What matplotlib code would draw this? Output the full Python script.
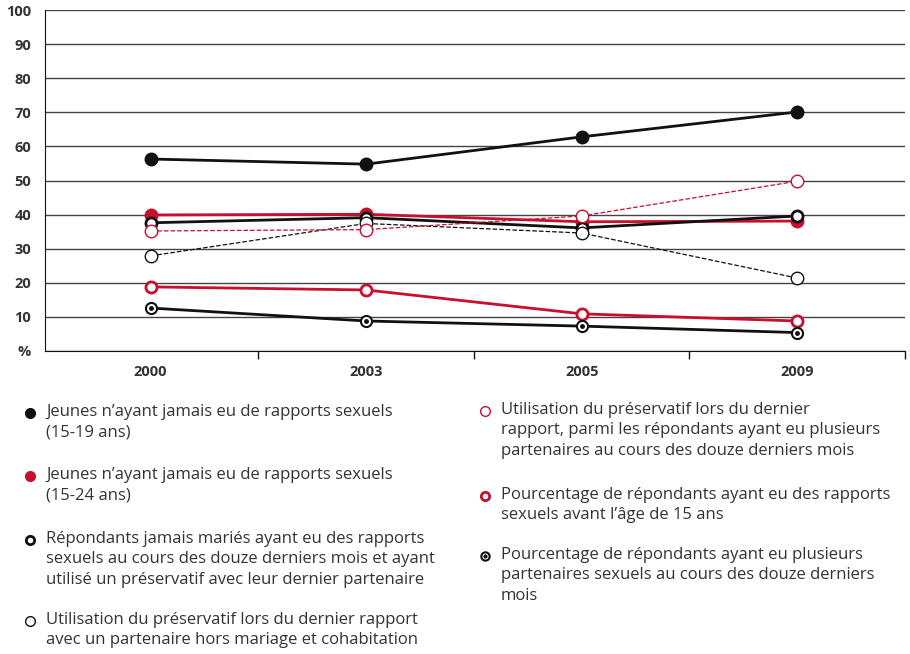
import matplotlib.pyplot as plt
import numpy as np

plt.rcParams['font.family'] = ['Open Sans', 'DejaVu Sans']

years = ['2000', '2003', '2005', '2009']
jeunes_15_19 = [56.3, 54.8, 62.8, 70.1]
jeunes_15_24 = [39.9, 40.1, 37.9, 38.1]
jamais_maries = [37.6, 39.1, 36.1, 39.6]
hors_mariage = [27.9, 37.4, 34.6, 21.4]
plusieurs_part_preservatif = [35.2, 35.6, 39.6, 49.8]
avant_15 = [18.8, 17.9, 10.9, 8.8]
plusieurs_part = [12.6, 8.8, 7.3, 5.4]

legend_labels = [
    "Jeunes n’ayant jamais eu de rapports sexuels\n(15-19 ans)",
    "Jeunes n’ayant jamais eu de rapports sexuels\n(15-24 ans)",
    "Répondants jamais mariés ayant eu des rapports\nsexuels au cours des douze derniers mois et ayant\nutilisé un préservatif avec leur dernier partenaire",
    "Utilisation du préservatif lors du dernier rapport\navec un partenaire hors mariage et cohabitation",
    "Utilisation du préservatif lors du dernier\nrapport, parmi les répondants ayant eu plusieurs\npartenaires au cours des douze derniers mois",
    "Pourcentage de répondants ayant eu des rapports\nsexuels avant l’âge de 15 ans",
    "Pourcentage de répondants ayant eu plusieurs\npartenaires sexuels au cours des douze derniers\nmois",
]

RED = '#c8102e'
BLACK = '#111111'
TXT = '#333333'

fig = plt.figure(figsize=(9.1, 6.54), dpi=100)
ax = fig.add_axes([45/910, 1-351/654, 860/910, 341/654])
x = np.arange(len(years))

# styles: (color, linestyle, lw, marker face, marker edge width, marker size, center dot)
styles = [
    (BLACK, '-', 2.0, BLACK, 1.0, 9, False),
    (RED, '-', 2.0, RED, 1.0, 9, False),
    (BLACK, '-', 2.0, 'white', 2.0, 8, False),
    (BLACK, '--', 0.9, 'white', 1.0, 9, False),
    (RED, '--', 0.9, 'white', 1.0, 9, False),
    (RED, '-', 2.0, 'white', 2.0, 8, False),
    (BLACK, '-', 2.0, 'white', 1.5, 8, True),
]
series = [jeunes_15_19, jeunes_15_24, jamais_maries, hors_mariage,
          plusieurs_part_preservatif, avant_15, plusieurs_part]

for vals, (c, ls, lw, mfc, mew, ms, dot) in zip(series, styles):
    ax.plot(x, vals, color=c, ls=ls, lw=lw, marker='o', mfc=mfc, mec=c,
            mew=mew, ms=ms, zorder=3)
    if dot:
        ax.plot(x, vals, ls='none', marker='o', color=c, ms=2.5, zorder=4)

ax.set_xlim(-0.49, 3.5)
ax.set_ylim(0, 100)
ax.set_yticks(np.arange(0, 101, 10))
ax.set_yticklabels(['%'] + [str(v) for v in range(10, 101, 10)])
ax.set_xticks(x)
ax.set_xticklabels(years)
ax.set_xticks(np.arange(0.5, 3.6, 1), minor=True)
ax.tick_params(axis='x', which='major', length=0, pad=10)
ax.tick_params(axis='x', which='minor', length=6, width=1, color=BLACK)
ax.tick_params(axis='y', length=0, pad=10)
for lab in ax.get_xticklabels() + ax.get_yticklabels():
    lab.set_fontweight('bold')
    lab.set_fontsize(10.5)
    lab.set_color(TXT)
ax.grid(axis='y', color='#444444', lw=1)
ax.set_axisbelow(True)
for s in ['top', 'right']:
    ax.spines[s].set_visible(False)
ax.spines['left'].set_color(BLACK)
ax.spines['bottom'].set_color(BLACK)

# legend drawn in pixel coordinates
lax = fig.add_axes([0, 0, 1, 1])
lax.set_xlim(0, 910)
lax.set_ylim(654, 0)
lax.axis('off')
positions = [(30, 413), (30, 476), (30, 540), (30, 621),
             (485, 411), (485, 496), (485, 556)]
for (px, py), label, (c, ls, lw, mfc, mew, ms, dot) in zip(positions, legend_labels, styles):
    lax.plot(px, py, marker='o', mfc=mfc, mec=c, mew=mew, ms=ms - 2, color=c)
    if dot:
        lax.plot(px, py, marker='o', color=c, ms=2)
    lax.text(px + 16, py - 9, label, fontsize=12, color=TXT, va='top',
             ha='left', linespacing=1.36)

fig.savefig('out.png', dpi=100)
